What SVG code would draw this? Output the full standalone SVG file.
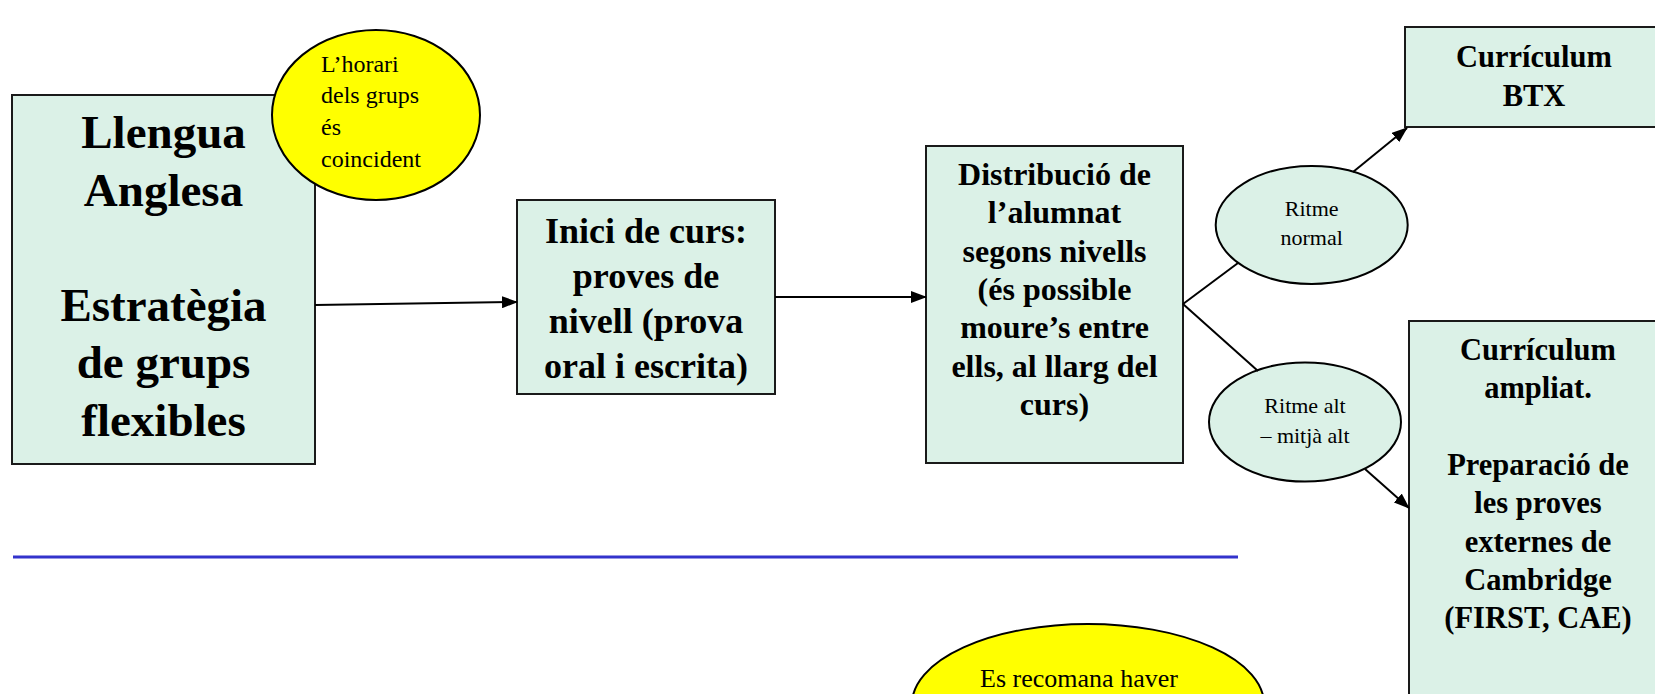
<svg xmlns="http://www.w3.org/2000/svg" width="1655" height="694" viewBox="0 0 1655 694">
<defs>
<style>
.box{fill:#DBF1E7;stroke:#1a1a1a;stroke-width:2}
.ell{fill:#DBF1E7;stroke:#000;stroke-width:2}
.note{fill:#FFFF00;stroke:#000;stroke-width:2}
text{font-family:"Liberation Serif","DejaVu Serif",serif;fill:#000}
.b{font-weight:bold;text-anchor:middle}
.r{font-weight:normal}
.c{text-anchor:middle}
.con{stroke:#000;stroke-width:2;fill:none}
</style>
<marker id="arr" markerUnits="userSpaceOnUse" markerWidth="16" markerHeight="12" refX="15" refY="6" orient="auto" viewBox="0 0 16 12">
<path d="M0,0 L16,6 L0,12 z" fill="#000"/>
</marker>
</defs>
<rect width="1655" height="694" fill="#fff"/>

<g id="n-llengua">
<rect class="box" x="12" y="95" width="303" height="369"/>
<text class="b" font-family="Liberation Serif, serif" font-size="47"><tspan x="163.5" y="148">Llengua</tspan><tspan x="163.5" y="205.5">Anglesa</tspan><tspan x="163.5" y="320.5">Estratègia</tspan><tspan x="163.5" y="378">de grups</tspan><tspan x="163.5" y="435.5">flexibles</tspan></text>
</g>

<g id="n-horari">
<ellipse class="note" cx="376" cy="115" rx="104" ry="85"/>
<text class="r" font-family="Liberation Serif, serif" font-size="24"><tspan x="321" y="72">L’horari</tspan><tspan x="321" y="103">dels grups</tspan><tspan x="321" y="135">és</tspan><tspan x="321" y="167">coincident</tspan></text>
</g>

<g id="n-inici">
<rect class="box" x="517" y="200" width="258" height="194"/>
<text class="b" font-family="Liberation Serif, serif" font-size="36"><tspan x="646" y="243">Inici de curs:</tspan><tspan x="646" y="288">proves de</tspan><tspan x="646" y="333">nivell (prova</tspan><tspan x="646" y="378">oral i escrita)</tspan></text>
</g>

<g id="n-distribucio">
<rect class="box" x="926" y="146" width="257" height="317"/>
<text class="b" font-family="Liberation Serif, serif" font-size="32"><tspan x="1054.5" y="185">Distribució de</tspan><tspan x="1054.5" y="223.3">l’alumnat</tspan><tspan x="1054.5" y="261.7">segons nivells</tspan><tspan x="1054.5" y="300">(és possible</tspan><tspan x="1054.5" y="338.3">moure’s entre</tspan><tspan x="1054.5" y="376.7">ells, al llarg del</tspan><tspan x="1054.5" y="415">curs)</tspan></text>
</g>

<g id="n-ritme-normal">
<ellipse class="ell" cx="1311.7" cy="225" rx="96" ry="59"/>
<text class="r c" font-family="Liberation Serif, serif" font-size="22"><tspan x="1311.7" y="216">Ritme</tspan><tspan x="1311.7" y="245">normal</tspan></text>
</g>

<g id="n-ritme-alt">
<ellipse class="ell" cx="1305" cy="422" rx="96" ry="59.5"/>
<text class="r c" font-family="Liberation Serif, serif" font-size="22"><tspan x="1305" y="412.7">Ritme alt</tspan><tspan x="1305" y="442.7">– mitjà alt</tspan></text>
</g>

<g id="n-btx">
<rect class="box" x="1405" y="27" width="262" height="100"/>
<text class="b" font-family="Liberation Serif, serif" font-size="30.5"><tspan x="1534" y="67">Currículum</tspan><tspan x="1534" y="106">BTX</tspan></text>
</g>

<g id="n-ampliat">
<rect class="box" x="1409" y="321" width="258" height="400"/>
<text class="b" font-family="Liberation Serif, serif" font-size="30.5"><tspan x="1538" y="360">Currículum</tspan><tspan x="1538" y="398">ampliat.</tspan><tspan x="1538" y="475">Preparació de</tspan><tspan x="1538" y="513">les proves</tspan><tspan x="1538" y="552">externes de</tspan><tspan x="1538" y="590">Cambridge</tspan><tspan x="1538" y="628">(FIRST, CAE)</tspan></text>
</g>

<g id="n-recomana">
<ellipse class="note" cx="1088" cy="704" rx="176" ry="80"/>
<text class="r c" font-family="Liberation Serif, serif" font-size="26"><tspan x="1079" y="687">Es recomana haver</tspan></text>
</g>

<g id="connectors">
<line class="con" x1="315" y1="305" x2="517" y2="302" marker-end="url(#arr)"/>
<line class="con" x1="775" y1="297" x2="926" y2="297" marker-end="url(#arr)"/>
<line class="con" x1="1183" y1="304" x2="1238" y2="263"/>
<line class="con" x1="1183" y1="304" x2="1258" y2="371"/>
<line class="con" x1="1353" y1="172" x2="1407" y2="128" marker-end="url(#arr)"/>
<line class="con" x1="1365" y1="469" x2="1409" y2="508" marker-end="url(#arr)"/>
<line x1="13" y1="557" x2="1238" y2="557" stroke="#3333CC" stroke-width="3"/>
</g>
</svg>
